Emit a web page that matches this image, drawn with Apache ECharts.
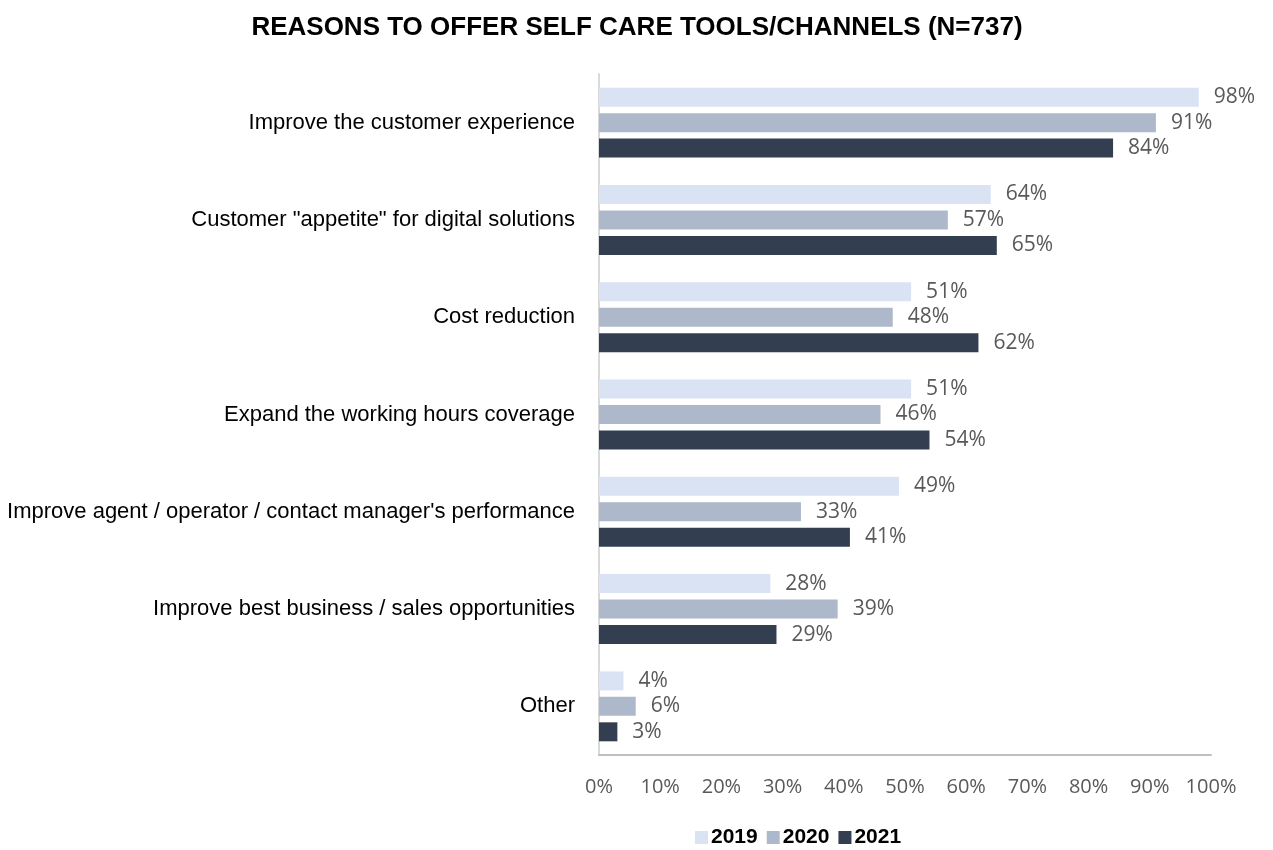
<!DOCTYPE html>
<html>
<head>
<meta charset="utf-8">
<script src="https://cdn.jsdelivr.net/npm/echarts@6/dist/echarts.min.js"></script>
<style>html,body{margin:0;padding:0;background:#fff}#chart{width:1273px;height:850px}</style>
</head>
<body>
<div id="chart"></div>
<script>
const categories = [
  'Improve the customer experience',
  'Customer "appetite" for digital solutions',
  'Cost reduction',
  'Expand the working hours coverage',
  "Improve agent / operator / contact manager's performance",
  'Improve best business / sales opportunities',
  'Other'
];
const seriesNames = ['2019', '2020', '2021'];
const values2019 = [98, 64, 51, 51, 49, 28, 4];
const values2020 = [91, 57, 48, 46, 33, 39, 6];
const values2021 = [84, 65, 62, 54, 41, 29, 3];
const colors = ['#dae3f3', '#adb9ca', '#333f50'];

const chart = echarts.init(document.getElementById('chart'));
const valueFont = { color: '#595959', fontFamily: 'Open Sans', fontSize: 20 };

function bar(name, data, color) {
  return {
    name, type: 'bar', data, barWidth: 19, barGap: '34%',
    itemStyle: { color },
    label: { show: true, position: 'right', distance: 15, formatter: '{c}%', ...valueFont, fontSize: 21 }
  };
}

chart.setOption({
  animation: false,
  title: {
    text: 'REASONS TO OFFER SELF CARE TOOLS/CHANNELS (N=737)',
    left: 632, top: 10, textAlign: 'center',
    textStyle: { fontFamily: 'Liberation Sans', fontWeight: 'bold', fontSize: 26, color: '#000' }
  },
  legend: {
    top: 822, left: 690, itemWidth: 13, itemHeight: 13, itemGap: 9,
    textStyle: { fontFamily: 'Liberation Sans', fontWeight: 'bold', fontSize: 21, color: '#000', padding: [0, 0, 0, -2] },
    data: seriesNames.map((n, i) => ({ name: n, icon: 'rect', itemStyle: { color: colors[i] } }))
  },
  grid: { left: 599, right: 62, top: 74, bottom: 95, containLabel: false },
  xAxis: {
    type: 'value', min: 0, max: 100, interval: 10,
    axisLabel: { formatter: '{value}%', margin: 22, ...valueFont },
    axisLine: { show: true, lineStyle: { color: '#bfbfbf', width: 2 } },
    axisTick: { show: false },
    splitLine: { show: false }
  },
  yAxis: {
    type: 'category', data: categories, inverse: true,
    axisLabel: { fontFamily: 'Liberation Sans', fontSize: 22, color: '#000', margin: 24 },
    axisLine: { lineStyle: { color: '#d9d9d9', width: 2 } },
    axisTick: { show: false }
  },
  series: [
    bar(seriesNames[0], values2019, colors[0]),
    bar(seriesNames[1], values2020, colors[1]),
    bar(seriesNames[2], values2021, colors[2])
  ]
});
</script>
</body>
</html>
